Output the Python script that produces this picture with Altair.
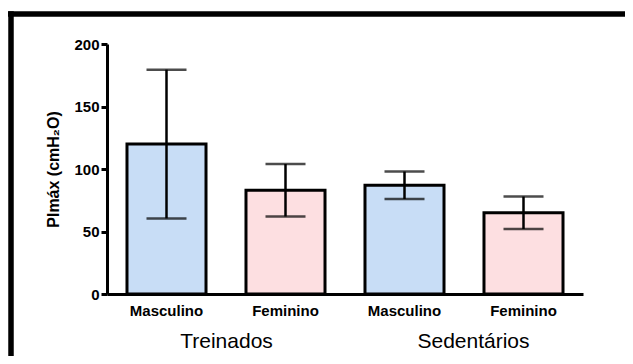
import altair as alt
import pandas as pd

groups = ["Treinados", "Treinados", "Sedentários", "Sedentários"]
sexes = ["Masculino", "Feminino", "Masculino", "Feminino"]
means = [120, 83, 87, 65]
sds = [59.5, 21, 11, 13]
colors = ["#c8ddf6", "#fddfe1", "#c8ddf6", "#fddfe1"]

df = pd.DataFrame({
    "key": [f"{g}|{s}" for g, s in zip(groups, sexes)],
    "grupo": groups,
    "sexo": sexes,
    "media": means,
    "lo": [m - s for m, s in zip(means, sds)],
    "hi": [m + s for m, s in zip(means, sds)],
    "cor": colors,
})
order = list(df["key"])

W, H = 476, 250
FONT = "Arial"

x = alt.X("key:N", sort=order,
          scale=alt.Scale(paddingInner=0.336, paddingOuter=0.168),
          axis=alt.Axis(title=None, labelExpr="split(datum.label, '|')[1]",
                        labelAngle=0, ticks=False, domainWidth=3, domainColor="black",
                        labelFont=FONT, labelFontSize=15, labelFontWeight="bold",
                        labelColor="black", labelPadding=9))
y = alt.Y("media:Q", scale=alt.Scale(domain=[0, 200]),
          axis=alt.Axis(title="PImáx (cmH₂O)", values=[0, 50, 100, 150, 200],
                        grid=False, domainWidth=3, domainColor="black",
                        tickWidth=3, tickSize=6, tickColor="black",
                        labelFont=FONT, labelFontSize=15, labelFontWeight="bold",
                        labelColor="black", labelPadding=2,
                        titleFont=FONT, titleFontSize=16, titleFontWeight="bold",
                        titleColor="black", titlePadding=12))

base = alt.Chart(df)

bars = base.mark_bar(stroke="black", strokeWidth=3).encode(
    x=x, y=y, fill=alt.Fill("cor:N", scale=None))

err = base.mark_rule(color="black", strokeWidth=2.5).encode(
    x=alt.X("key:N", sort=order), y="lo:Q", y2="hi:Q")
cap_hi = base.mark_tick(color="black", thickness=2.5, size=40).encode(
    x=alt.X("key:N", sort=order), y="hi:Q")
cap_lo = base.mark_tick(color="black", thickness=2.5, size=40).encode(
    x=alt.X("key:N", sort=order), y="lo:Q")

g1 = base.transform_filter("datum.key == 'Treinados|Masculino'").mark_text(
    font=FONT, fontSize=21, color="black", dx=60, baseline="alphabetic").encode(
    x=alt.X("key:N", sort=order), y=alt.value(304), text="grupo:N")
g2 = base.transform_filter("datum.key == 'Sedentários|Masculino'").mark_text(
    font=FONT, fontSize=21, color="black", dx=69, baseline="alphabetic").encode(
    x=alt.X("key:N", sort=order), y=alt.value(304), text="grupo:N")

frame_top = base.transform_filter("datum.key == 'Treinados|Masculino'").mark_rule(
    color="black", strokeWidth=5.5).encode(
    x=alt.value(-99), x2=alt.value(530), y=alt.value(-30))
frame_left = base.transform_filter("datum.key == 'Treinados|Masculino'").mark_rule(
    color="black", strokeWidth=5.5).encode(
    x=alt.value(-96), y=alt.value(-32.75), y2=alt.value(330))

chart = alt.layer(bars, err, cap_hi, cap_lo, g1, g2, frame_top, frame_left).properties(
    width=W, height=H,
    background="white",
    autosize=alt.AutoSizeParams(type="none"),
    padding={"left": 99, "top": 36, "right": 42, "bottom": 62},
).configure_view(stroke=None, strokeWidth=0)

chart.save("out.html", embed_options={"renderer": "svg", "actions": False})
